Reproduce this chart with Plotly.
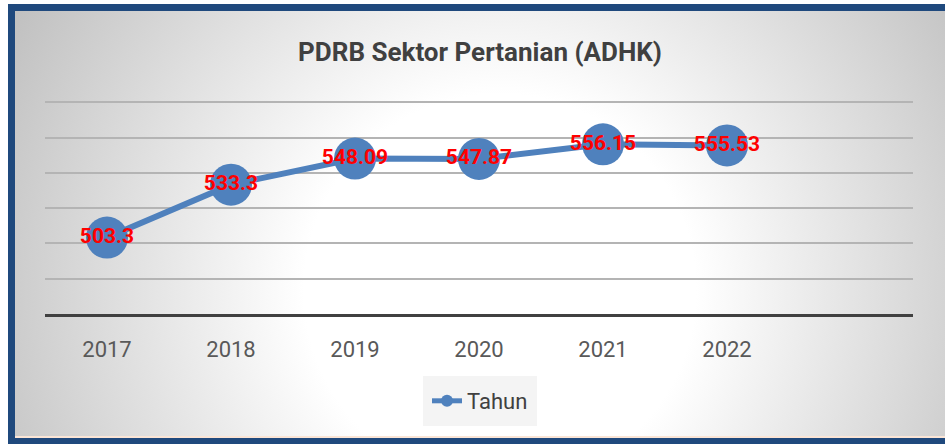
import base64
import plotly.graph_objects as go

categories = ["2017", "2018", "2019", "2020", "2021", "2022", " "]
values = [503.3, 533.3, 548.09, 547.87, 556.15, 555.53, None]
labels = ["503.3", "533.3", "548.09", "547.87", "556.15", "555.53", ""]
series_name = "Tahun"
title_text = "PDRB Sektor Pertanian (ADHK)"

W, H = 945, 444
ML, MR, MT, MB = 45, 32, 101, 130
PW, PH = W - ML - MR, H - MT - MB

FONT = "Roboto, sans-serif"
BLUE = "#4F81BD"

svg = f'''<svg xmlns="http://www.w3.org/2000/svg" width="{W}" height="{H}" viewBox="0 0 {W} {H}">
<defs><radialGradient id="g" cx="500" cy="290" r="560" gradientUnits="userSpaceOnUse">
<stop offset="0" stop-color="#ffffff"/><stop offset="0.35" stop-color="#ffffff"/>
<stop offset="1" stop-color="#c0c0c0"/></radialGradient></defs>
<rect x="0" y="0" width="{W}" height="{H}" fill="#ffffff"/>
<rect x="8" y="4" width="{W-8}" height="{H-4}" fill="#1F497D"/>
<rect x="15" y="11" width="{W-15}" height="425" fill="url(#g)"/>
<rect x="15" y="436" width="{W-15}" height="2" fill="#FBE5D6"/>
</svg>'''
src = "data:image/svg+xml;base64," + base64.b64encode(svg.encode()).decode()

fig = go.Figure()
fig.add_trace(go.Scatter(
    x=categories, y=values, name=series_name,
    mode="lines+markers+text",
    text=labels, textposition="middle center",
    textfont=dict(family=FONT, size=21, color="#FF0000", weight="bold"),
    line=dict(color=BLUE, width=6),
    marker=dict(color=BLUE, size=42),
    cliponaxis=False,
))

fig.add_layout_image(dict(
    source=src, xref="paper", yref="paper",
    x=-ML / PW, y=1 + MT / PH, sizex=W / PW, sizey=H / PH,
    xanchor="left", yanchor="top", sizing="stretch", layer="below",
))

fig.update_layout(
    width=W, height=H,
    margin=dict(l=ML, r=MR, t=MT, b=MB),
    paper_bgcolor="rgba(0,0,0,0)", plot_bgcolor="rgba(0,0,0,0)",
    title=dict(text=f"<b>{title_text}</b>", x=(480 - ML) / PW, xref="paper",
               y=1 - 52 / H, yref="container", xanchor="center", yanchor="middle",
               font=dict(family=FONT, size=26, color="#404040")),
    showlegend=True,
    legend=dict(orientation="h", x=(480 - ML) / PW, xanchor="center",
                y=-(376 - (H - MB)) / PH, yanchor="top", bgcolor="#f4f4f4",
                font=dict(family=FONT, size=22, color="#404040"),
                itemsizing="constant", borderwidth=4, bordercolor="#f4f4f4"),
    xaxis=dict(type="category", range=[-0.5, 6.5], showgrid=False,
               showline=True, linecolor="#404040", linewidth=3,
               ticks="outside", ticklen=14, tickcolor="rgba(0,0,0,0)",
               tickfont=dict(family=FONT, size=22, color="#595959"),
               fixedrange=True),
    yaxis=dict(range=[460, 580.7], dtick=20, tick0=460, showticklabels=False,
               showgrid=True, gridcolor="#b4b4b4", gridwidth=1.5,
               zeroline=False, showline=False, fixedrange=True),
)

fig.write_html("out.html", config={"displayModeBar": False},
               post_script="document.body.style.margin='0';document.body.style.overflow='hidden';")
